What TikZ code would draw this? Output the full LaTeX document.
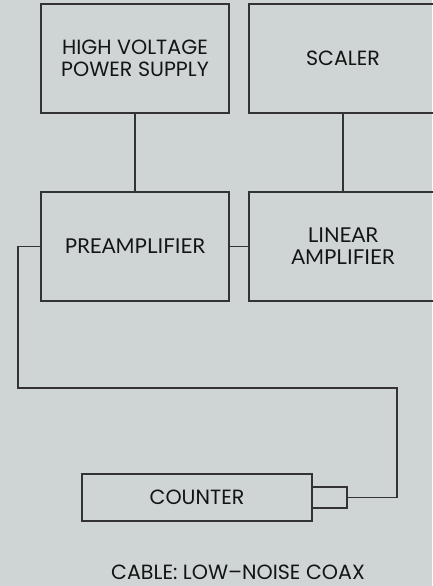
\documentclass[tikz,border=0pt]{standalone}
\usepackage{fontspec}
\setmainfont{Poppins}
\newfontfamily\latofont{Lato}
\definecolor{bgc}{HTML}{CFD5D5}
\definecolor{lnc}{HTML}{333333}
\begin{document}
\begin{tikzpicture}[x=1pt,y=-1pt,
  box/.style={draw=lnc, line width=1.1pt, rectangle, inner sep=0pt, text=black!92,
    align=center, font=\fontsize{20.6}{21.8}\selectfont},
  latobox/.style={box, font=\latofont\fontsize{20.5}{22}\selectfont},
  wire/.style={draw=lnc, line width=1.1pt}]
\fill[bgc] (0,0) rectangle (432,586);
\useasboundingbox (0,0) rectangle (432,586);
\node[box, minimum width=188, minimum height=109] (hv) at (135,58.5) {HIGH VOLTAGE\\POWER SUPPLY};
\node[box, minimum width=188, minimum height=109] (sc) at (343,58.5) {SCALER};
\node[latobox, minimum width=188, minimum height=109] (pre) at (135,246.5) {PREAMPLIFIER};
\node[latobox, minimum width=188, minimum height=109] (lin) at (343,246.5) {LINEAR\\AMPLIFIER};
\node[box, minimum width=230, minimum height=47] (cnt) at (197,497.5) {COUNTER};
\node[box, minimum width=35, minimum height=21] (con) at (329.5,497.5) {};
\node[text=black!92, font=\fontsize{20.6}{22}\selectfont] (cap) at (238,572.5) {CABLE: LOW–NOISE COAX};
\coordinate (c1) at (18,246.5);
\coordinate (c2) at (18,388);
\coordinate (c3) at (397,388);
\coordinate (c4) at (397,497.5);
\draw[wire] (hv.south) -- (pre.north);
\draw[wire] (sc.south) -- (lin.north);
\draw[wire] (pre.east) -- (lin.west);
\draw[wire] (pre.west) -- (c1) -- (c2) -- (c3) -- (c4) -- (con.east);
\end{tikzpicture}
\end{document}
